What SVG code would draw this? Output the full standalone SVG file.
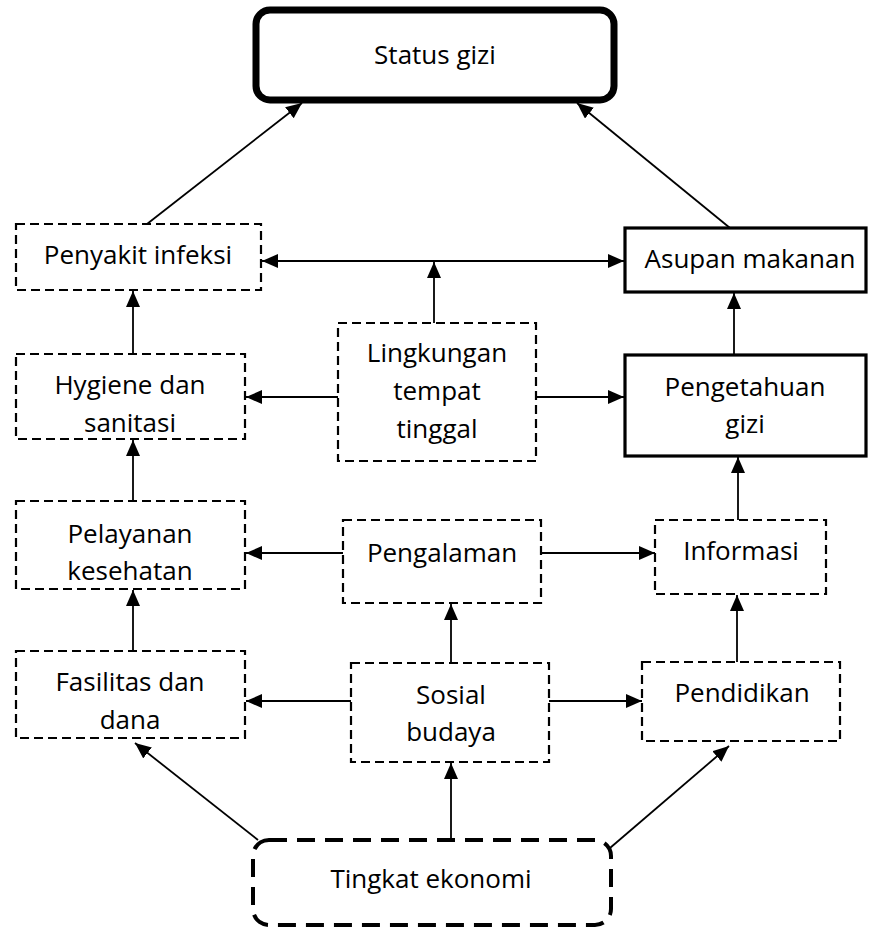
<svg xmlns="http://www.w3.org/2000/svg" width="875" height="928" viewBox="0 0 875 928">
<style>
.box{fill:#fff;stroke:#000;stroke-width:2.2}
.dash{stroke-dasharray:9 5}
.bold{stroke-width:3.2}
.t{font-family:"Open Sans","Liberation Sans",sans-serif;font-size:26px;fill:#000;text-anchor:middle}
.c{stroke:#000;stroke-width:1.8;fill:none}
</style>
<defs>
<marker id="ah" markerUnits="userSpaceOnUse" markerWidth="17" markerHeight="15" refX="16" refY="7" orient="auto-start-reverse">
<path d="M0,0 L16,7 L0,14 z" fill="#000"/>
</marker>
</defs>
<rect width="875" height="928" fill="#fff"/>
<g id="connectors">
<line class="c" x1="147" y1="224" x2="302" y2="103" marker-end="url(#ah)"/>
<line class="c" x1="730" y1="228" x2="577" y2="103" marker-end="url(#ah)"/>
<line class="c" x1="262" y1="261" x2="624" y2="261" marker-start="url(#ah)" marker-end="url(#ah)"/>
<line class="c" x1="434" y1="323" x2="434" y2="262" marker-end="url(#ah)"/>
<line class="c" x1="338" y1="397" x2="246" y2="397" marker-end="url(#ah)"/>
<line class="c" x1="536" y1="397" x2="624" y2="397" marker-end="url(#ah)"/>
<line class="c" x1="133" y1="354" x2="133" y2="291" marker-end="url(#ah)"/>
<line class="c" x1="734" y1="355" x2="734" y2="293" marker-end="url(#ah)"/>
<line class="c" x1="133" y1="501" x2="133" y2="440" marker-end="url(#ah)"/>
<line class="c" x1="343" y1="553" x2="246" y2="553" marker-end="url(#ah)"/>
<line class="c" x1="541" y1="553" x2="655" y2="553" marker-end="url(#ah)"/>
<line class="c" x1="738" y1="520" x2="738" y2="457" marker-end="url(#ah)"/>
<line class="c" x1="133" y1="651" x2="133" y2="590" marker-end="url(#ah)"/>
<line class="c" x1="451" y1="663" x2="451" y2="604" marker-end="url(#ah)"/>
<line class="c" x1="351" y1="701" x2="246" y2="701" marker-end="url(#ah)"/>
<line class="c" x1="549" y1="701" x2="642" y2="701" marker-end="url(#ah)"/>
<line class="c" x1="737" y1="662" x2="737" y2="595" marker-end="url(#ah)"/>
<line class="c" x1="258" y1="840" x2="135" y2="743" marker-end="url(#ah)"/>
<line class="c" x1="451" y1="840" x2="451" y2="763" marker-end="url(#ah)"/>
<line class="c" x1="610" y1="848" x2="729" y2="746" marker-end="url(#ah)"/>
</g>
<g id="status-gizi">
<rect class="box" x="256" y="10" width="358" height="90" rx="14" style="stroke-width:7"/>
<text class="t" x="435" y="64">Status gizi</text>
</g>
<g id="penyakit-infeksi">
<rect class="box dash" x="16" y="224" width="245" height="66"/>
<text class="t" x="138" y="264">Penyakit infeksi</text>
</g>
<g id="asupan-makanan">
<rect class="box bold" x="625" y="228" width="241" height="64"/>
<text class="t" x="750" y="268">Asupan makanan</text>
</g>
<g id="hygiene">
<rect class="box dash" x="16" y="354" width="229" height="85"/>
<text class="t" x="130" y="394">Hygiene dan</text>
<text class="t" x="130" y="432">sanitasi</text>
</g>
<g id="lingkungan">
<rect class="box dash" x="338" y="323" width="198" height="138"/>
<text class="t" x="437" y="362">Lingkungan</text>
<text class="t" x="437" y="400">tempat</text>
<text class="t" x="437" y="438">tinggal</text>
</g>
<g id="pengetahuan-gizi">
<rect class="box bold" x="625" y="355" width="241" height="101"/>
<text class="t" x="745" y="396">Pengetahuan</text>
<text class="t" x="745" y="433">gizi</text>
</g>
<g id="pelayanan">
<rect class="box dash" x="16" y="501" width="229" height="88"/>
<text class="t" x="130" y="543">Pelayanan</text>
<text class="t" x="130" y="580">kesehatan</text>
</g>
<g id="pengalaman">
<rect class="box dash" x="343" y="520" width="198" height="83"/>
<text class="t" x="442" y="562">Pengalaman</text>
</g>
<g id="informasi">
<rect class="box dash" x="655" y="520" width="171" height="74"/>
<text class="t" x="741" y="560">Informasi</text>
</g>
<g id="fasilitas">
<rect class="box dash" x="16" y="651" width="229" height="87"/>
<text class="t" x="130" y="691">Fasilitas dan</text>
<text class="t" x="130" y="729">dana</text>
</g>
<g id="sosial-budaya">
<rect class="box dash" x="351" y="663" width="198" height="99"/>
<text class="t" x="451" y="704">Sosial</text>
<text class="t" x="451" y="741">budaya</text>
</g>
<g id="pendidikan">
<rect class="box dash" x="642" y="662" width="198" height="79"/>
<text class="t" x="742" y="702">Pendidikan</text>
</g>
<g id="tingkat-ekonomi">
<rect class="box" x="253" y="840" width="358" height="85" rx="16" style="stroke-width:4;stroke-dasharray:18 10"/>
<text class="t" x="431" y="888">Tingkat ekonomi</text>
</g>
</svg>
